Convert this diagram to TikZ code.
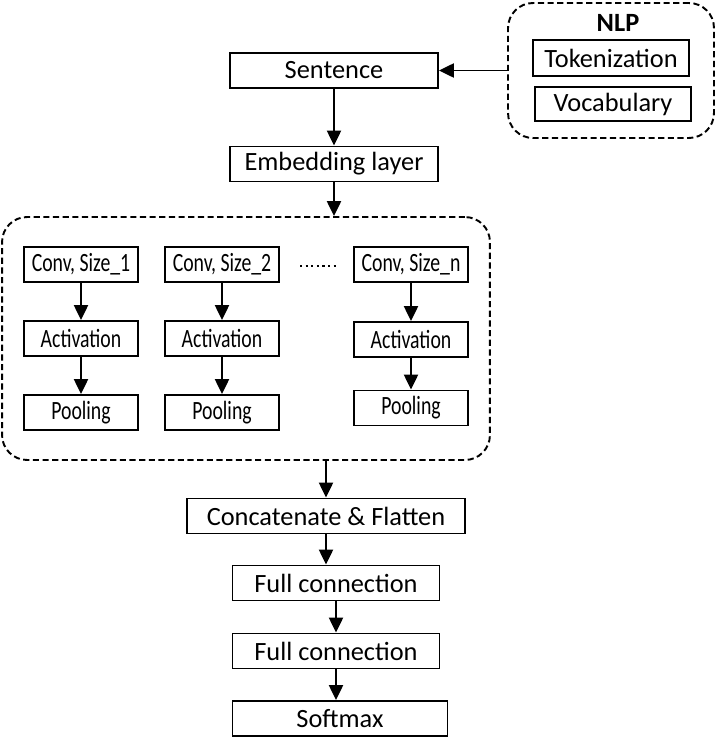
\documentclass[tikz,border=0pt]{standalone}
\usepackage{fontspec}
\setmainfont{Carlito}
\newfontfamily\narrowfont[FakeStretch=0.75]{Carlito}
\usetikzlibrary{arrows.meta}

\begin{document}
\begin{tikzpicture}[->,>={Triangle[length=8.5pt,width=8pt]},line width=1.1pt,
                    x=0.02cm,y=-0.02cm,font=\fontsize{15}{18}\selectfont]
  \tikzstyle{box}=[draw,-,minimum height=0.7cm,inner sep=2pt]
  \tikzstyle{branch}=[box,minimum width=2.28cm,font=\narrowfont\fontsize{15}{18}\selectfont]
  \tikzstyle{group}=[draw,-,dash pattern=on 3.5pt off 2pt,rounded corners=0.5cm]
  \useasboundingbox (0,0) rectangle (717,737);

  % main column
  \node[box,minimum width=4.16cm] (sent)   at (334,70.5)  {Sentence};
  \node[box,minimum width=4.16cm] (emb)    at (334,164)   {Embedding layer};

  % convolution branches
  \node[group,minimum width=9.76cm,minimum height=4.86cm] (layers) at (246,338.5) {};
  \node[branch] (conv1) at (81,264.5)  {Conv, Size\_1};
  \node[branch] (act1)  at (81,338.5)  {Activation};
  \node[branch] (pool1) at (81,412.5)  {Pooling};
  \node[branch] (conv2) at (222,264.5) {Conv, Size\_2};
  \node[branch] (act2)  at (222,338.5) {Activation};
  \node[branch] (pool2) at (222,412.5) {Pooling};
  \node[branch] (convn) at (411,264.5) {Conv, Size\_n};
  \node[branch] (actn)  at (411,339.5) {Activation};
  \node[branch] (pooln) at (411,408)   {Pooling};
  \draw[-,dotted,line width=1.2pt] (300,266) -- (338,266);

  \node[box,minimum width=5.56cm] (concat) at (326,516) {Concatenate \& Flatten};
  \node[box,minimum width=4.14cm] (fc1)    at (336,583) {Full connection};
  \node[box,minimum width=4.14cm] (fc2)    at (336,651) {Full connection};
  \node[box,minimum width=4.3cm]  (soft)   at (340,718.5) {Softmax};

  % preprocessing
  \node[group,minimum width=4.12cm,minimum height=2.7cm] (nlp) at (611,70.5) {};
  \node[font=\fontsize{15}{18}\bfseries] (nlplabel) at (618,23) {NLP};
  \node[box,minimum width=3.12cm,minimum height=0.72cm] (tok) at (611,58)  {Tokenization};
  \node[box,minimum width=3.12cm,minimum height=0.68cm] (voc) at (613,104) {Vocabulary};

  \path (nlp)   edge (sent)
        (sent)  edge (emb)
        (conv1) edge (act1)
        (act1)  edge (pool1)
        (conv2) edge (act2)
        (act2)  edge (pool2)
        (convn) edge (actn)
        (actn)  edge (pooln)
        (concat) edge (concat |- fc1.north)
        (fc1)   edge (fc1 |- fc2.north)
        (fc2)   edge (fc2 |- soft.north);
  \draw (emb.south) -- (emb.south |- layers.north);
  \draw (layers.south -| concat) -- (concat);
\end{tikzpicture}
\end{document}
